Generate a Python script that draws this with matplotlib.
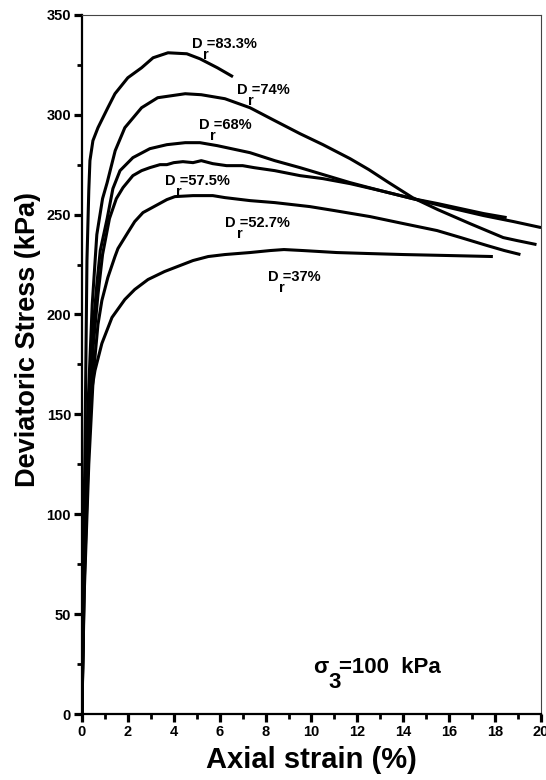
import matplotlib
matplotlib.use("Agg")
import matplotlib.pyplot as plt
from matplotlib.ticker import MultipleLocator

plt.rcParams['font.family'] = ['Liberation Sans', 'DejaVu Sans']
plt.rcParams['font.weight'] = 'bold'

# Deviator stress vs axial strain, sigma3 = 100 kPa
x_833 = [0, 0.05, 0.13, 0.22, 0.3, 0.35, 0.48, 0.7, 1.13, 1.44, 2.0, 2.6, 3.1, 3.75, 4.57, 5.14, 5.9, 6.58]
y_833 = [0, 60, 130, 227, 262, 277, 287, 293.5, 303.5, 310.5, 318.5, 323.5, 328.5, 331, 330.5, 328, 323.5, 319]

x_74 = [0, 0.1, 0.25, 0.45, 0.65, 0.9, 1.1, 1.45, 1.87, 2.6, 3.3, 4.5, 5.2, 6.23, 7.32, 8.32, 9.5, 10.5,
        11.68, 12.5, 13.3, 14.4, 15.5, 16.9, 18.35, 18.95, 19.8]
y_74 = [0, 80, 150, 205, 240, 258, 266, 282, 293.5, 303.5, 308.5, 310.5, 310, 308, 303.5, 297.5, 290.5, 285,
        278, 272.5, 266.5, 258.5, 252.5, 245.5, 238.5, 237, 235]

x_68 = [0, 0.1, 0.3, 0.5, 0.65, 0.8, 1.1, 1.35, 1.66, 2.22, 2.96, 3.7, 4.5, 5.14, 5.9, 7.32, 8.4, 9.5,
        11.68, 13.0, 14.4, 16.0, 17.5, 18.8, 20.0]
y_68 = [0, 70, 140, 195, 215, 232, 248, 263, 272, 278.5, 283, 285, 286, 286, 284.5, 281, 277, 273.5,
        266, 262, 258, 253.5, 249.5, 246.5, 243.5]

x_575 = [0, 0.1, 0.3, 0.5, 0.7, 0.9, 1.2, 1.5, 1.79, 2.22, 2.6, 2.96, 3.4, 3.7, 4.0, 4.4, 4.84, 5.2, 5.7,
         6.3, 7.0, 7.5, 8.4, 9.5, 10.5, 11.68, 13.0, 14.4, 15.5, 16.5, 17.5, 18.5]
y_575 = [0, 65, 135, 185, 210, 230, 248, 258, 263.5, 269.5, 272, 273.5, 275, 275, 276, 276.5, 276, 277, 275.5,
         274.5, 274.5, 273.5, 272, 269.5, 268, 265.5, 262, 258, 255.5, 253, 250.5, 248.5]

x_527 = [0, 0.1, 0.3, 0.5, 0.7, 0.87, 1.13, 1.44, 1.57, 2.0, 2.3, 2.66, 3.3, 3.7, 4.05, 4.84, 5.7, 6.23,
         7.32, 8.4, 9.93, 11.0, 12.55, 14.0, 15.47, 16.5, 17.65, 18.4, 19.1]
y_527 = [0, 60, 125, 170, 195, 207, 218.5, 229, 233, 241, 246.5, 251, 255, 257.5, 259, 259.5, 259.5, 258.5,
         257, 256, 254, 252, 249, 245.5, 242, 238.5, 234.5, 232, 230]

x_37 = [0, 0.05, 0.1, 0.22, 0.35, 0.57, 0.87, 1.31, 1.87, 2.3, 2.88, 3.6, 4.05, 4.84, 5.5, 6.23, 7.32,
        8.2, 8.8, 9.63, 11.1, 12.5, 14.0, 16.0, 17.9]
y_37 = [0, 50, 100, 138.5, 157, 172, 185.5, 198.5, 207.5, 212.5, 217.5, 221.5, 223.5, 227, 229, 230, 231,
        232, 232.5, 232, 231, 230.5, 230, 229.5, 229]

curves = [(x_833, y_833), (x_74, y_74), (x_68, y_68), (x_575, y_575), (x_527, y_527), (x_37, y_37)]

label_texts = ["=83.3%", "=74%", "=68%", "=57.5%", "=52.7%", "=37%"]
label_x = [4.8, 6.75, 5.1, 3.6, 6.25, 8.1]
label_y = [335.5, 312.5, 295, 267, 246, 219]

fig = plt.figure(figsize=(5.46, 7.8), dpi=100)
ax = fig.add_axes([0.150, 0.0846, 0.841, 0.8964])

for xs, ys in curves:
    ax.plot(xs, ys, color='black', lw=2.2, solid_joinstyle='round', solid_capstyle='butt')

for lx, ly, t in zip(label_x, label_y, label_texts):
    ax.text(lx, ly, "D " + t, fontsize=10.5, fontweight='bold', va='center', ha='left')
    ax.annotate("r", xy=(lx, ly), xytext=(8, -8), textcoords='offset points',
                fontsize=10.5, fontweight='bold', va='center', ha='left')

# sigma_3 note, built from three pieces around one anchor
ax.text(10.07, 20.5, "σ", fontsize=16, fontweight='bold', va='baseline', ha='left')
ax.annotate("3", xy=(10.07, 20.5), xytext=(10.8, -10.8), textcoords='offset points',
            fontsize=16, fontweight='bold', va='baseline', ha='left')
ax.annotate("=100  kPa", xy=(10.07, 20.5), xytext=(18.5, 0), textcoords='offset points',
            fontsize=16, fontweight='bold', va='baseline', ha='left')

ax.set_xlim(0, 20)
ax.set_ylim(0, 350)
ax.xaxis.set_major_locator(MultipleLocator(2))
ax.xaxis.set_minor_locator(MultipleLocator(1))
ax.yaxis.set_major_locator(MultipleLocator(50))
ax.yaxis.set_minor_locator(MultipleLocator(25))

ax.tick_params(which='major', direction='out', length=5.8, width=2.3, labelsize=10.5, pad=2)
ax.tick_params(which='minor', direction='out', length=3.6, width=2.0)
for lab in ax.get_xticklabels() + ax.get_yticklabels():
    lab.set_fontweight('bold')

for side in ['left', 'bottom']:
    ax.spines[side].set_linewidth(1.6)
for side in ['top', 'right']:
    ax.spines[side].set_linewidth(0.8)
    ax.spines[side].set_color('#444444')

ax.set_xlabel("Axial strain (%)", fontsize=21, fontweight='bold', labelpad=5)
ax.set_ylabel("Deviatoric Stress (kPa)", fontsize=19.5, fontweight='bold')
ax.yaxis.set_label_coords(-0.089, 0.535)

fig.savefig("out.png", dpi=100)
